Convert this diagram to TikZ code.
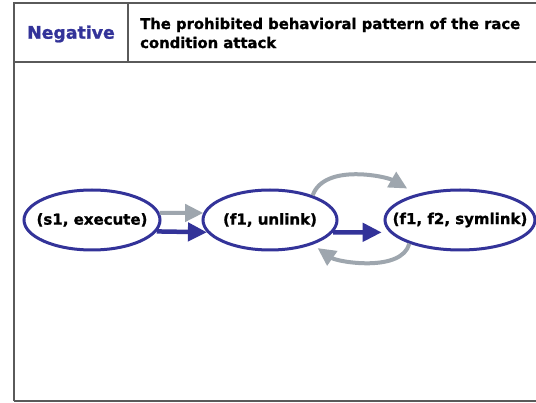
\documentclass[tikz,border=0pt]{standalone}
\usepackage{fontspec}
\setmainfont{DejaVu Sans}[BoldFeatures={FakeBold=1.2}]
\usetikzlibrary{shapes.geometric,arrows.meta}
\definecolor{myblue}{HTML}{333399}
\definecolor{mygray}{HTML}{9EA6AE}
\definecolor{framegray}{HTML}{5A5A5A}
\tikzset{
  frameline/.style={draw=framegray, line width=1.3pt},
  state/.style={ellipse, draw=myblue, line width=3pt, minimum width=#1, minimum height=60pt, inner sep=0pt, font=\bfseries\fontsize{15}{17}\selectfont},
  grayarr/.style={draw=mygray, line width=4pt, -{Triangle[length=18pt,width=17pt]}},
  bluearr/.style={draw=myblue, line width=4.5pt, -{Triangle[length=19pt,width=18pt]}},
}
\begin{document}
\begin{tikzpicture}[x=1pt,y=-1pt]
\useasboundingbox (0,0) rectangle (536,403);
\fill[white] (0,0) rectangle (536,403);
% frame
\coordinate (tl) at (14,3);
\coordinate (tr) at (537,3);
\coordinate (ml) at (14,62);
\coordinate (mr) at (537,62);
\coordinate (bl) at (14,401);
\coordinate (br) at (537,401);
\coordinate (dt) at (128,3);
\coordinate (db) at (128,62);
\draw[frameline] (tr) -- (tl) -- (bl);
\draw[frameline] (ml) -- (mr);
\draw[frameline] (dt) -- (db);
\draw[draw=framegray, line width=2.6pt] (bl) -- (br);
% header
\node[text=myblue, font=\bfseries\fontsize{17.3}{19}\selectfont] (neg) at (71,34) {Negative};
\node[anchor=west, align=left, inner sep=0pt, font=\bfseries\fontsize{14.8}{19}\selectfont] (title) at (140,33) {The prohibited behavioral pattern of the race\\condition attack};
% states
\node[state=136pt] (e1) at (92,220) {\makebox[0pt]{(s1, execute)}};
\node[state=134pt] (e2) at (270,220) {\makebox[0pt]{(f1, unlink)}};
\node[state=150pt] (e3) at (460,220) {\makebox[0pt]{(f1, f2, symlink)}};
% arrows
\draw[grayarr] (e1.6) -- (e2.174);
\draw[bluearr] (e1.-10) -- (e2.191);
\draw[bluearr, shorten >=8pt] (e2.-11) -- (e3.190);
\draw[grayarr, shorten >=11pt] (e2.30) to[out=70,in=150,looseness=0.85] (e3.149);
\draw[grayarr, shorten >=6pt] (e3.205) to[out=-105,in=-35,looseness=0.8] (e2.-30);
\end{tikzpicture}
\end{document}
